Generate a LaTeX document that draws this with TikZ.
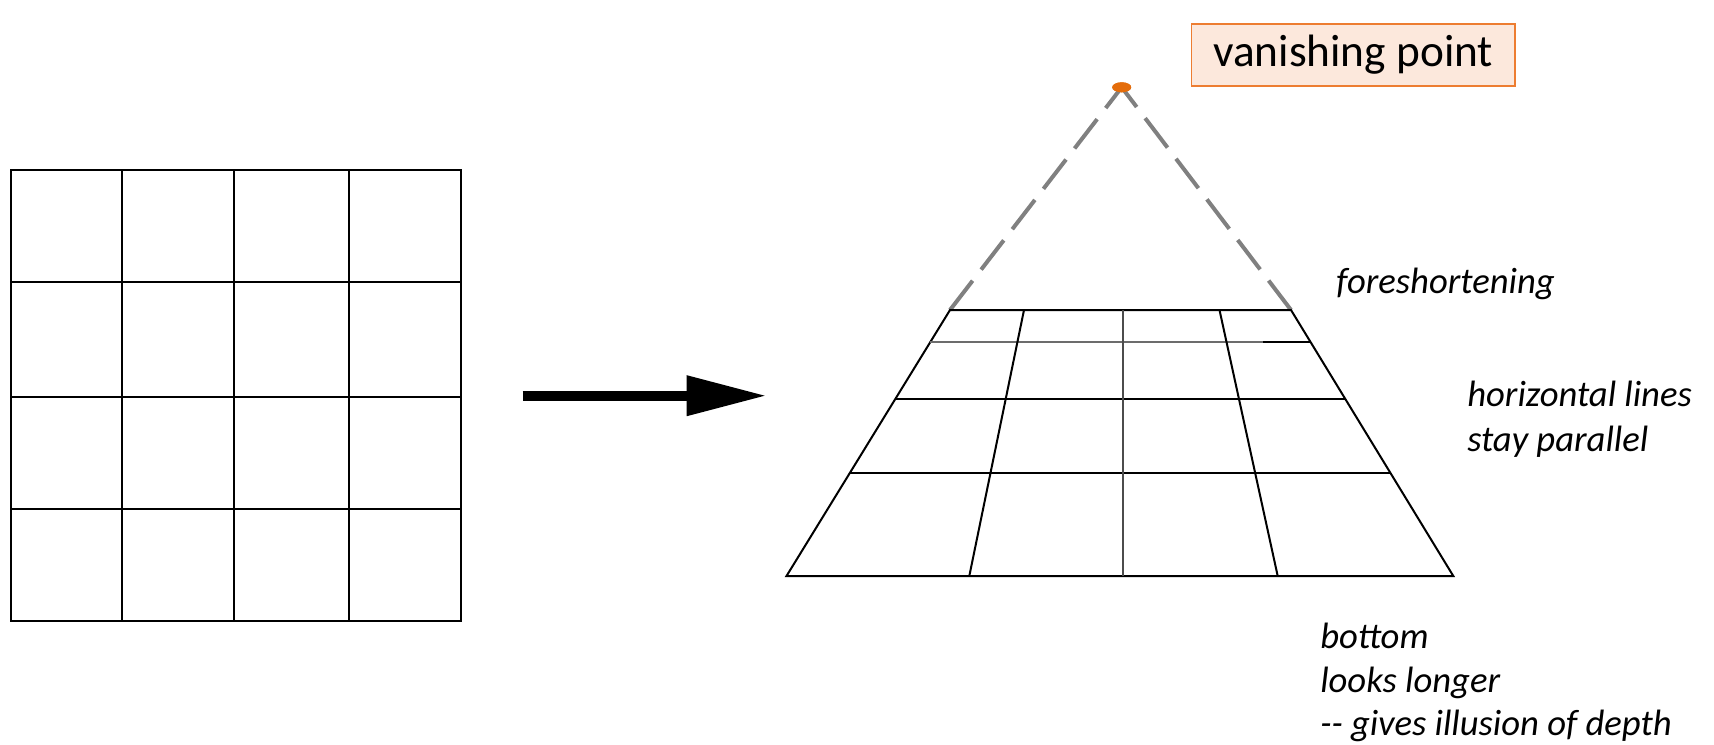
\documentclass[tikz,border=0pt]{standalone}
\usepackage{fontspec}
\setmainfont{Carlito}
\usetikzlibrary{arrows.meta,shapes.geometric}
\definecolor{vporange}{HTML}{E46C0A}
\definecolor{boxborder}{HTML}{ED7D31}
\definecolor{boxfill}{HTML}{FCE8DC}
\definecolor{dashgray}{HTML}{808080}
\begin{document}
\begin{tikzpicture}[x=0.75pt,y=-0.75pt,
  gridline/.style={line width=1.5pt, black},
  persp/.style={line width=1.5pt, black},
  vpdash/.style={line width=3pt, dashgray, dash pattern=on 27.75pt off 10.5pt},
  note/.style={font=\fontsize{27.5}{33.75}\selectfont\itshape, anchor=base west, inner sep=0pt},
  bigarrow/.style={line width=7.5pt, -{Triangle[length=60pt,width=28.5pt]}},
]
\useasboundingbox (0,0) rectangle (1714,744);

% left square grid
\foreach \x in {122.3,234.3,349.3} \draw[gridline] (\x,170) -- (\x,621);
\foreach \y in {281.7,396.7,509} \draw[gridline] (10.5,\y) -- (461,\y);
\draw[gridline] (10.5,170) rectangle (461,621);

% arrow
\coordinate (arrS) at (522.7,395.7);
\coordinate (arrE) at (766.7,395.7);
\draw[bigarrow] (arrS) -- (arrE);

% perspective grid
\coordinate (BL) at (786.5,576);
\coordinate (BR) at (1453.3,576);
\coordinate (TL) at (950,310);
\coordinate (TR) at (1291,310);
\node[ellipse, fill=vporange, minimum width=14.25pt, minimum height=7.5pt, inner sep=0pt] (vp) at (1121.7,87.3) {};
\draw[vpdash] (TL) -- (vp.center);
\draw[vpdash] (TR) -- (vp.center);
\node[ellipse, fill=vporange, minimum width=14.25pt, minimum height=7.5pt, inner sep=0pt] at (vp.center) {};
\draw[persp, line join=miter] (TL) -- (BL) -- (BR) -- (TR) -- cycle;

\coordinate (h1L) at (930.3,342);
\coordinate (h1M) at (1263,342);
\coordinate (h1R) at (1310.5,342);
\coordinate (h2L) at (895.3,399);
\coordinate (h2R) at (1345.3,399);
\coordinate (h3L) at (849.8,473);
\coordinate (h3R) at (1390.5,473);
\draw[persp, gray!85!black] (h1L) -- (h1M);
\draw[persp] (h1M) -- (h1R);
\draw[persp] (h2L) -- (h2R);
\draw[persp] (h3L) -- (h3R);

\coordinate (v1T) at (1024,310);
\coordinate (v1B) at (969.3,576);
\coordinate (v2T) at (1123,310);
\coordinate (v2B) at (1123,576);
\coordinate (v3T) at (1219.5,310);
\coordinate (v3B) at (1277.7,576);
\draw[persp] (v1T) -- (v1B);
\draw[persp, black!70] (v2T) -- (v2B);
\draw[persp] (v3T) -- (v3B);

% labels
\node[draw=boxborder, fill=boxfill, line width=1.2pt, minimum width=242.6pt, minimum height=46.5pt,
      inner sep=0pt, font=\fontsize{34}{40}\selectfont] (vplabel) at (1353.2,55) {vanishing point};

\node[note] (fs) at (1336,293.3) {foreshortening};
\node[note] (hl1) at (1467,406.7) {horizontal lines};
\node[note] (hl2) at (1467,451.7) {stay parallel};
\node[note] (bt1) at (1320,648) {bottom};
\node[note] (bt2) at (1320,692.5) {looks longer};
\node[note] (bt3) at (1320,735.5) {-{}- gives illusion of depth};
\end{tikzpicture}
\end{document}
